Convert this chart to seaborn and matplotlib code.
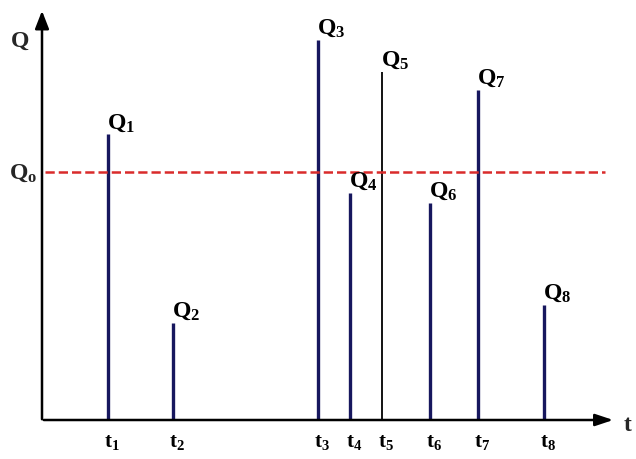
import matplotlib
matplotlib.use("Agg")
import matplotlib.pyplot as plt
import seaborn as sns

# pulse times (distance from the origin) and peak values
times = [66, 131, 276, 308, 340, 388, 436, 502]
peaks = [286, 97, 380, 227, 348, 217, 330, 115]
q_names = ["1", "2", "3", "4", "5", "6", "7", "8"]
threshold = 248

sns.set_theme(style="white")
plt.rcParams["mathtext.fontset"] = "custom"
plt.rcParams["mathtext.bf"] = "Liberation Serif:bold"
plt.rcParams["mathtext.rm"] = "Liberation Serif"

fig = plt.figure(figsize=(6.36, 4.59), dpi=100)
ax = fig.add_axes([0, 0, 1, 1])
ax.set_xlim(-42, 594)
ax.set_ylim(-39, 420)
ax.axis("off")

# stems, the fifth one drawn thin and black
for i, (t, q) in enumerate(zip(times, peaks)):
    if i == 4:
        ax.vlines(t, 0, q, color="black", lw=1.3)
    else:
        ax.vlines(t, 0, q, color="#17175e", lw=2.4)
    ax.annotate(r"$\mathbf{Q_{%s}}$" % q_names[i], (t, q), xytext=(-1, 9),
                textcoords="offset points", ha="left", va="center",
                fontsize=17, color="black")
    ax.annotate(r"$\mathbf{t_{%s}}$" % q_names[i], (t, 0), xytext=(3, -16),
                textcoords="offset points", ha="center", va="center",
                fontsize=15, color="black")

# threshold line
sns.lineplot(x=[3, 563], y=[threshold, threshold], ax=ax, color="#d92b2b",
             lw=1.8, dashes=(5, 3), linestyle="--")

# axes with arrows
ax.annotate("", xy=(0, 412), xytext=(0, -2),
            arrowprops=dict(arrowstyle="-|>,head_length=0.9,head_width=0.35",
                            color="black", lw=1.8))
ax.annotate("", xy=(574, 0), xytext=(-1, 0),
            arrowprops=dict(arrowstyle="-|>,head_length=0.9,head_width=0.3",
                            color="black", lw=1.8))

ax.text(-22, 380, r"$\mathbf{Q}$", fontsize=17, ha="center", va="center")
ax.text(-19, threshold, r"$\mathbf{Q_o}$", fontsize=17, ha="center", va="center")
ax.text(581, -4, r"$\mathbf{t}$", fontsize=17, ha="left", va="center")

fig.savefig("out.png", dpi=100)
